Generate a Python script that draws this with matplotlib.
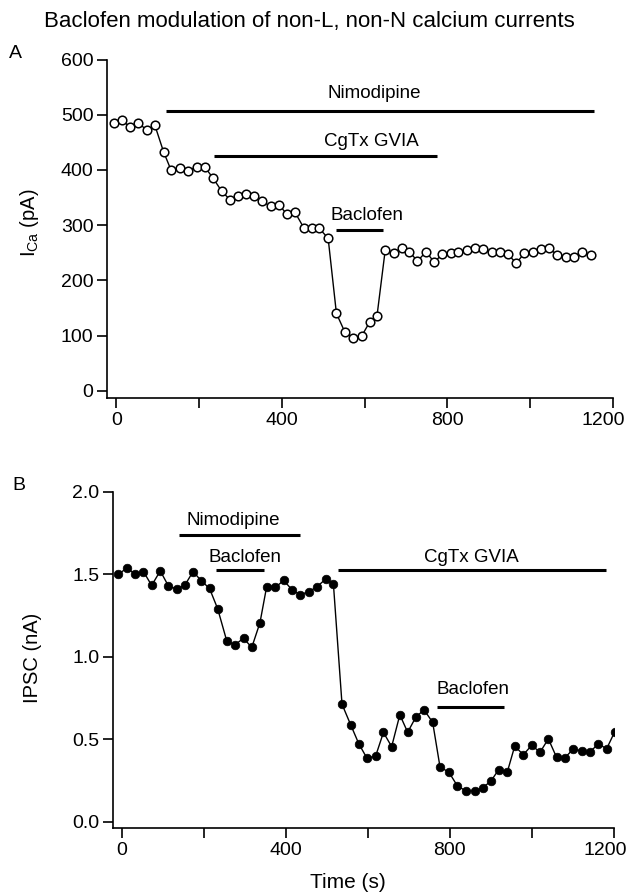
import matplotlib
matplotlib.use("Agg")
import matplotlib.pyplot as plt
from matplotlib.transforms import ScaledTranslation

plt.rcParams['font.family'] = ['Liberation Sans', 'DejaVu Sans']
plt.rcParams['mathtext.fontset'] = 'custom'
plt.rcParams['mathtext.rm'] = 'Liberation Sans'
plt.rcParams['mathtext.it'] = 'Liberation Sans:italic'

# ---- Panel A data: calcium current (pA) ----
time_a = [-7, 13, 33, 53, 73, 93, 114, 132, 154, 174, 194, 214, 234, 255, 275,
          293, 313, 333, 353, 373, 393, 412, 432, 454, 472, 491, 512, 532, 552,
          573, 593, 612, 630, 650, 670, 690, 708, 728, 749, 768, 788, 808, 827,
          847, 866, 887, 907, 927, 947, 967, 986, 1007, 1026, 1046, 1066, 1086,
          1106, 1126, 1147]
ica = [486, 490, 478, 486, 472, 481, 433, 400, 403, 399, 406, 405, 385, 361,
       346, 352, 356, 353, 343, 334, 337, 320, 323, 294, 294, 294, 276, 140,
       107, 96, 99, 124, 135, 255, 249, 259, 252, 235, 252, 233, 247, 250, 252,
       255, 258, 257, 252, 251, 247, 231, 249, 251, 256, 258, 246, 242, 243,
       252, 246]

# drug application bars in A: (label, start, end, bar level, label x, label y)
bars_a = [("Nimodipine", 119, 1155, 507, 623, 539),
          ("CgTx GVIA", 237, 774, 425, 617, 452),
          ("Baclofen", 531, 644, 292, 605, 318)]

# ---- Panel B data: IPSC (nA) ----
time_b = [-8, 12, 32, 53, 73, 94, 114, 134, 154, 174, 194, 214, 234, 256, 276,
          297, 317, 337, 353, 374, 395, 415, 435, 456, 476, 497, 516, 537, 558,
          578, 598, 619, 638, 658, 678, 697, 717, 737, 758, 776, 797, 818, 839,
          860, 880, 900, 919, 940, 958, 979, 999, 1020, 1040, 1060, 1080, 1101,
          1122, 1141, 1162, 1182, 1202]
ipsc = [1.50, 1.536, 1.504, 1.516, 1.432, 1.52, 1.428, 1.41, 1.434, 1.516,
        1.46, 1.414, 1.29, 1.096, 1.072, 1.112, 1.056, 1.206, 1.42, 1.42,
        1.462, 1.406, 1.376, 1.394, 1.424, 1.47, 1.442, 0.712, 0.588, 0.472,
        0.384, 0.398, 0.541, 0.455, 0.648, 0.542, 0.634, 0.678, 0.602, 0.33,
        0.302, 0.218, 0.186, 0.186, 0.206, 0.246, 0.316, 0.302, 0.458, 0.406,
        0.462, 0.422, 0.502, 0.39, 0.386, 0.442, 0.426, 0.422, 0.472, 0.442,
        0.546]

bars_b = [("Nimodipine", 139, 435, 1.74, 272, 1.826),
          ("Baclofen", 231, 348, 1.524, 301, 1.602),
          ("CgTx GVIA", 528, 1180, 1.526, 852, 1.602),
          ("Baclofen", 768, 931, 0.694, 857, 0.802)]

xticks_major = [0, 400, 800, 1200]
xticks_minor = [200, 600, 1000]
yticks_a = [0, 100, 200, 300, 400, 500, 600]
yticks_b = [0.0, 0.5, 1.0, 1.5, 2.0]

W, H = 633, 894
fig = plt.figure(figsize=(W / 100, H / 100), dpi=100)


def fx(px):
    return px / W


def fy(py):
    return 1 - py / H


def axrect(l, t, r, b):
    return [fx(l), fy(b), fx(r) - fx(l), fy(t) - fy(b)]


tick_fs = 14
label_fs = 13.5

axA = fig.add_axes(axrect(107.3, 59.6, 612.7, 397.9))
axB = fig.add_axes(axrect(113.3, 491.7, 614.0, 828.3))

for ax in (axA, axB):
    for s in ('top', 'right'):
        ax.spines[s].set_visible(False)
    for s in ('left', 'bottom'):
        ax.spines[s].set_linewidth(1.2)
    ax.tick_params(which='both', direction='out', length=7, width=1.2,
                   labelsize=tick_fs, pad=3)
    ax.set_xticks(xticks_major)
    ax.set_xticks(xticks_minor, minor=True)
    ax.set_xticklabels([str(v) for v in xticks_major])

# Panel A
axA.plot(time_a, ica, color='black', lw=1.0, marker='o', ms=6.2,
         mfc='white', mec='black', mew=1.1, zorder=3)
axA.set_xlim(-22, 1200)
axA.set_ylim(-13, 600)
axA.set_yticks(yticks_a)
axA.set_yticklabels([str(v) for v in yticks_a])
for name, x0, x1, yb, xl, yl in bars_a:
    axA.plot([x0, x1], [yb, yb], color='black', lw=2.2, solid_capstyle='butt')
    axA.text(xl, yl, name, ha='center', va='center', fontsize=label_fs)

# Panel B
axB.plot(time_b, ipsc, color='black', lw=1.0, marker='o', ms=6.2,
         mfc='black', mec='black', mew=0.5, zorder=3)
axB.set_xlim(-20.5, 1200)
axB.set_ylim(-0.04, 2.0)
axB.set_yticks(yticks_b)
axB.set_yticklabels([f"{v:.1f}" for v in yticks_b])
for name, x0, x1, yb, xl, yl in bars_b:
    axB.plot([x0, x1], [yb, yb], color='black', lw=2.2, solid_capstyle='butt')
    axB.text(xl, yl, name, ha='center', va='center', fontsize=label_fs)

# shift last x tick label slightly left (as in the reference, to fit)
shift = ScaledTranslation(-9 / 100, 0, fig.dpi_scale_trans)
for ax in (axA, axB):
    lab = ax.get_xticklabels()[-1]
    lab.set_transform(lab.get_transform() + shift)

# Figure texts
fig.text(fx(309), fy(21), "Baclofen modulation of non-L, non-N calcium currents",
         ha='center', va='center', fontsize=16)
fig.text(fx(15.5), fy(54), "A", ha='center', va='center', fontsize=14)
fig.text(fx(19), fy(485), "B", ha='center', va='center', fontsize=14)
fig.text(fx(30), fy(223), r"I$_{\mathrm{Ca}}$ (pA)", rotation=90,
         ha='center', va='center', fontsize=14.5)
fig.text(fx(33), fy(658), "IPSC (nA)", rotation=90,
         ha='center', va='center', fontsize=14.5)
fig.text(fx(348), fy(882), "Time (s)", ha='center', va='center', fontsize=15)

fig.savefig("out.png", dpi=100)
